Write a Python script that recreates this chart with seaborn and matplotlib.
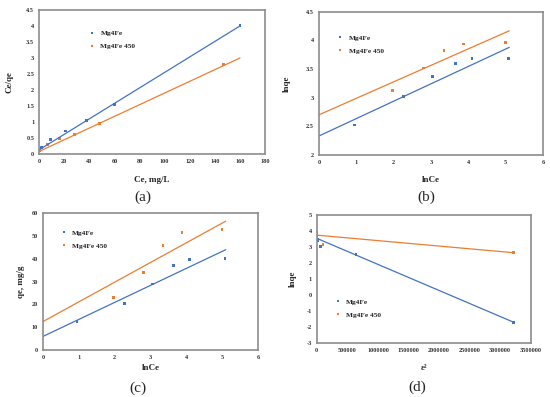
import numpy as np
import pandas as pd
import matplotlib
matplotlib.use('Agg')
import matplotlib.pyplot as plt
import seaborn as sns

sns.set_style('white')
plt.rcParams['font.family'] = ['Liberation Serif', 'DejaVu Serif']

BLUE = '#4472C4'
ORANGE = '#ED7D31'
series_names = ['Mg4Fe', 'Mg4Fe 450']

# (a) Langmuir: Ce vs Ce/qe
a_x_fe = [2, 9, 21, 38, 60, 160]
a_y_fe = [0.2, 0.45, 0.72, 1.05, 1.55, 4.02]
a_x_450 = [0.5, 7, 16, 28, 48, 147]
a_y_450 = [0.1, 0.3, 0.48, 0.62, 0.95, 2.8]
a_fit_x = [0, 160]
a_fit_fe = [0.13, 4.0]
a_fit_450 = [0.08, 3.0]

# (b) Freundlich: lnCe vs lnqe
b_x_fe = [0.95, 2.27, 3.05, 3.65, 4.1, 5.08]
b_y_fe = [2.52, 3.02, 3.37, 3.6, 3.68, 3.68]
b_x_450 = [1.97, 2.8, 3.35, 3.88, 5.0]
b_y_450 = [3.13, 3.52, 3.82, 3.94, 3.96]
b_fit_x = [0, 5.1]
b_fit_fe = [2.33, 3.88]
b_fit_450 = [2.7, 4.17]

# (c) Temkin: lnCe vs qe
c_x_fe = [0.95, 2.27, 3.05, 3.65, 4.1, 5.08]
c_y_fe = [12.5, 20.3, 29.0, 37.0, 39.7, 40.0]
c_x_450 = [1.97, 2.8, 3.35, 3.88, 5.0]
c_y_450 = [23.0, 34.0, 46.0, 51.5, 52.8]
c_fit_x = [0, 5.1]
c_fit_fe = [6.0, 44.0]
c_fit_450 = [12.5, 56.5]

# (d) D-R: eps^2 vs lnqe
d_x_fe = [0, 10000, 20000, 60000, 640000, 3220000]
d_y_fe = [3.7, 3.4, 3.5, 3.05, 2.55, -1.7]
d_x_450 = [0, 5000, 100000, 3220000]
d_y_450 = [3.95, 3.8, 3.15, 2.65]
d_fit_x = [0, 3220000]
d_fit_fe = [3.55, -1.7]
d_fit_450 = [3.75, 2.65]

fig = plt.figure(figsize=(5.5, 3.97), dpi=100)

panels = [
    dict(rect=[0.071, 0.612, 0.411, 0.363], data=(a_x_fe, a_y_fe, a_x_450, a_y_450),
         fit=(a_fit_x, a_fit_fe, a_fit_450), xlim=(0, 180), xt=np.arange(0, 181, 20),
         ylim=(0, 4.5), yt=np.arange(0, 4.51, 0.5), xl='Ce, mg/L', yl='Ce/qe', xpad=9, ypad=9,
         leg=(0.19, 0.88), tag='(a)', tagpos=(0.26, 0.503)),
    dict(rect=[0.58, 0.610, 0.407, 0.360], data=(b_x_fe, b_y_fe, b_x_450, b_y_450),
         fit=(b_fit_x, b_fit_fe, b_fit_450), xlim=(0, 6), xt=np.arange(0, 7, 1),
         ylim=(2, 4.5), yt=np.arange(2, 4.51, 0.5), xl='lnCe', yl='lnqe', xpad=8, ypad=11,
         leg=(0.05, 0.86), tag='(b)', tagpos=(0.775, 0.503)),
    dict(rect=[0.078, 0.118, 0.391, 0.345], data=(c_x_fe, c_y_fe, c_x_450, c_y_450),
         fit=(c_fit_x, c_fit_fe, c_fit_450), xlim=(0, 6), xt=np.arange(0, 7, 1),
         ylim=(0, 60), yt=np.arange(0, 61, 10), xl='lnCe', yl='qe, mg/g', xpad=3, ypad=5,
         leg=(0.05, 0.9), tag='(c)', tagpos=(0.25, 0.023)),
    dict(rect=[0.576, 0.136, 0.389, 0.322], data=(d_x_fe, d_y_fe, d_x_450, d_y_450),
         fit=(d_fit_x, d_fit_fe, d_fit_450), xlim=(0, 3500000), xt=np.arange(0, 3500001, 500000),
         ylim=(-3, 5), yt=np.arange(-3, 6, 1), xl='ε²', yl='lnqe', xpad=8, ypad=7,
         leg=(0.05, 0.37), tag='(d)', tagpos=(0.758, 0.025)),
]

for p in panels:
    ax = fig.add_axes(p['rect'])
    x1, y1, x2, y2 = p['data']
    fx, f1, f2 = p['fit']
    df = pd.DataFrame({'x': x1 + x2, 'y': y1 + y2,
                       'series': [series_names[0]] * len(x1) + [series_names[1]] * len(x2)})
    fit_df = pd.DataFrame({'x': fx + fx, 'y': f1 + f2,
                           'series': [series_names[0]] * len(fx) + [series_names[1]] * len(fx)})
    sns.lineplot(data=fit_df, x='x', y='y', hue='series', palette=[BLUE, ORANGE],
                 linewidth=0.9, legend=False, ax=ax)
    sns.scatterplot(data=df, x='x', y='y', hue='series', palette=[BLUE, ORANGE],
                    marker='s', s=4, linewidth=0, ax=ax)
    ax.set_xlim(*p['xlim'])
    ax.set_ylim(*p['ylim'])
    ax.set_xticks(p['xt'])
    ax.set_yticks(p['yt'])
    ax.set_xticklabels([f'{v:g}' if v < 10000 else f'{int(v)}' for v in p['xt']],
                       fontsize=4.5, fontweight='bold')
    ax.set_yticklabels([f'{v:g}' for v in p['yt']], fontsize=4.5, fontweight='bold')
    ax.tick_params(length=1.5, width=0.5, pad=2, colors='#333333')
    ax.set_xlabel(p['xl'], fontsize=6.5, fontweight='bold', labelpad=p['xpad'])
    ax.set_ylabel(p['yl'], fontsize=6.5, fontweight='bold', labelpad=p['ypad'])
    for s in ax.spines.values():
        s.set_color('#8c8c8c')
        s.set_linewidth(1.2)
    ax.legend(loc='upper left', bbox_to_anchor=p['leg'], frameon=False,
              prop={'weight': 'bold', 'size': 5.3}, handletextpad=0.1, markerscale=0.85,
              labelspacing=0.9, borderaxespad=0)
    fig.text(p['tagpos'][0], p['tagpos'][1], p['tag'], fontsize=11, ha='center', va='center')

fig.savefig('out.png', dpi=100)
